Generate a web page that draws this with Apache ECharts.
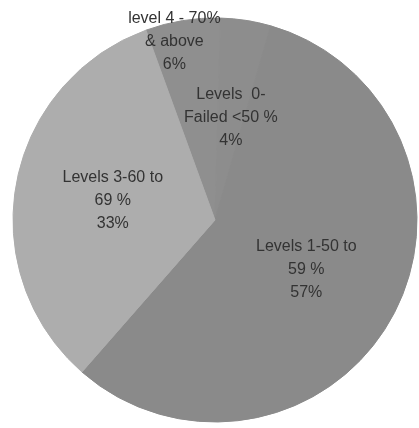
<!DOCTYPE html>
<html>
<head>
<meta charset="utf-8">
<script src="https://cdn.jsdelivr.net/npm/echarts@6/dist/echarts.min.js"></script>
<style>
html,body{margin:0;padding:0;background:#fff;}
#c{width:419px;height:428px;}
</style>
</head>
<body>
<div id="c"></div>
<script>
var categories = ['level 4 - 70%\n& above', 'Levels  0-\nFailed <50 %', 'Levels 1-50 to\n59 %', 'Levels 3-60 to\n69 %'];
var values = [6, 4, 57, 33];
var colors = ['#8f8f8f', '#8d8d8d', '#8a8a8a', '#adadad'];

var chart = echarts.init(document.getElementById('c'));
chart.setOption({
  animation: false,
  backgroundColor: '#ffffff',
  series: [{
    type: 'pie',
    center: [215, 220],
    radius: 202,
    startAngle: 110,
    clockwise: true,
    silent: true,
    data: categories.map(function (n, i) {
      return { name: n, value: values[i], itemStyle: { color: colors[i], borderColor: colors[i], borderWidth: 1 } };
    }),
    label: {
      position: 'inside',
      formatter: '{b}\n{d}%',
      color: '#333333',
      fontFamily: 'Liberation Sans',
      fontSize: 16,
      lineHeight: 23,
      align: 'center'
    },
    labelLine: { show: false },
    labelLayout: function (p) {
      if (p.dataIndex === 0) return { dx: -24, dy: -76 };
      return {};
    },
    emphasis: { disabled: true }
  }]
});
</script>
</body>
</html>
